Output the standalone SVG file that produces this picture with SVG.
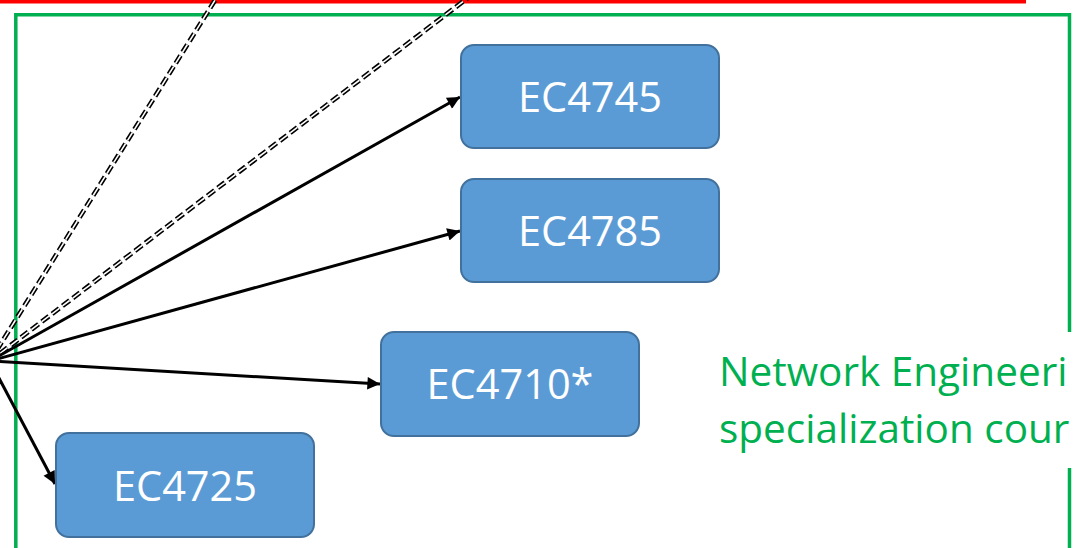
<svg xmlns="http://www.w3.org/2000/svg" width="1076" height="548" viewBox="0 0 1076 548">
<style>
.node rect{fill:#5b9bd5;stroke:#41719c;stroke-width:2}
.node text{fill:#ffffff;font-family:"Open Sans","Noto Sans",sans-serif;font-size:41.5px;text-anchor:middle}
.arrow{stroke:#000;stroke-width:3;fill:none;marker-end:url(#ah)}
.dashOuter{stroke:#000;stroke-width:4.8;fill:none;stroke-dasharray:9 4}
.dashInner{stroke:#fff;stroke-width:1.6;fill:none;stroke-dasharray:9 4}
.label{fill:#00b050;font-family:"Open Sans","Noto Sans",sans-serif;font-size:40.5px}
</style>
<defs>
<marker id="ah" viewBox="0 0 10 10" refX="10" refY="5" markerWidth="5.2" markerHeight="4.2" orient="auto" markerUnits="strokeWidth">
<path d="M0,0 L10,5 L0,10 z" fill="#000"/>
</marker>
</defs>
<rect x="0" y="0" width="1026" height="3.5" fill="#ff0000"/>
<g id="frame" fill="none" stroke="#00b050" stroke-width="3.5">
<path d="M15.8,560 V14.8 H1069.5 V332"/>
<path d="M1069.5,468 V560"/>
</g>
<g id="connectors">
<line class="dashOuter" x1="-10" y1="361" x2="217" y2="-3"/>
<line class="dashInner" x1="-10" y1="361" x2="217" y2="-3"/>
<line class="dashOuter" x1="-10" y1="361" x2="469" y2="-3"/>
<line class="dashInner" x1="-10" y1="361" x2="469" y2="-3"/>
<line class="arrow" x1="-10" y1="361" x2="460" y2="97"/>
<line class="arrow" x1="-10" y1="361" x2="460" y2="231"/>
<line class="arrow" x1="-10" y1="361" x2="380" y2="384"/>
<line class="arrow" x1="-10" y1="361" x2="55" y2="484"/>
</g>
<g id="EC4745" class="node">
<rect x="461" y="45" width="258" height="103" rx="13"/>
<text x="590" y="112">EC4745</text>
</g>
<g id="EC4785" class="node">
<rect x="461" y="179" width="258" height="103" rx="13"/>
<text x="590" y="246">EC4785</text>
</g>
<g id="EC4710" class="node">
<rect x="381" y="332" width="258" height="104" rx="13"/>
<text x="510" y="399">EC4710*</text>
</g>
<g id="EC4725" class="node">
<rect x="56" y="433" width="258" height="104" rx="13"/>
<text x="185" y="501">EC4725</text>
</g>
<g id="label">
<text class="label" x="719" y="386">Network Engineeri</text>
<text class="label" x="719" y="443">specialization cour</text>
</g>
</svg>
